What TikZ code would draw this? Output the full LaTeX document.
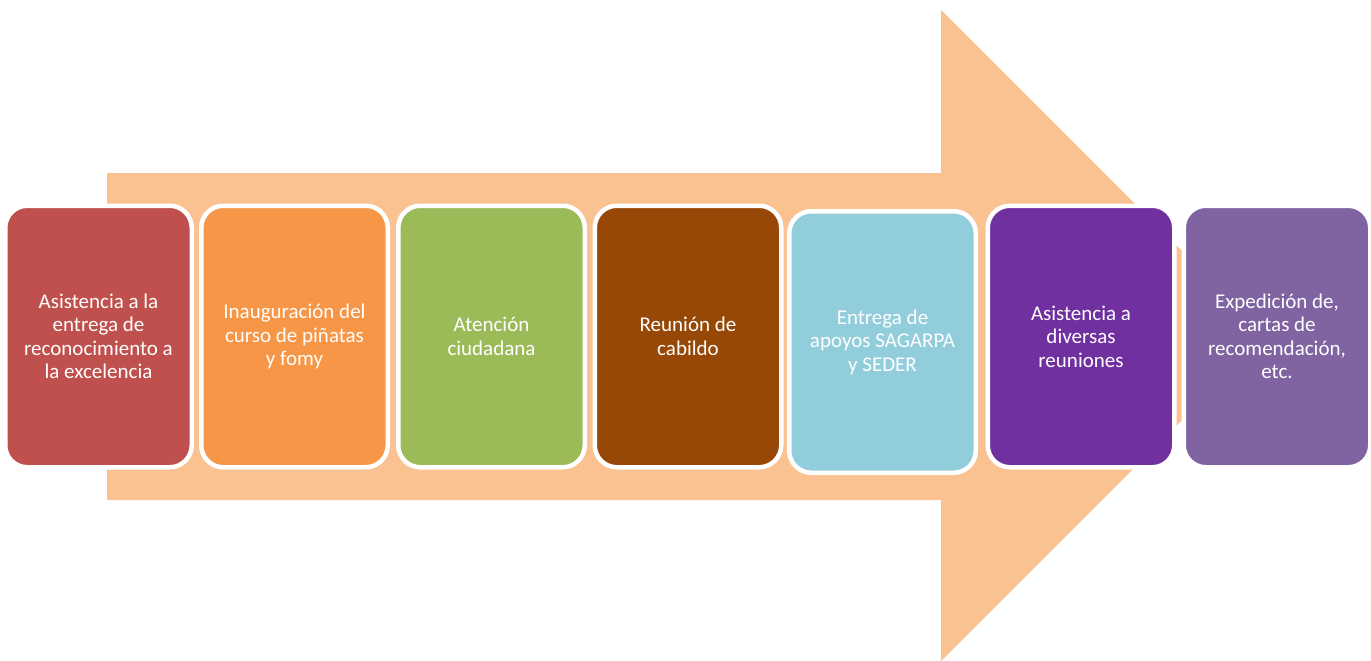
\documentclass[tikz,border=0pt]{standalone}
\usepackage{fontspec}
\setmainfont{Carlito}
\definecolor{arrowc}{HTML}{FAC191}
\definecolor{c1}{HTML}{C0504D}
\definecolor{c2}{HTML}{F79646}
\definecolor{c3}{HTML}{9BBB59}
\definecolor{c4}{HTML}{974806}
\definecolor{c5}{HTML}{92CDDC}
\definecolor{c6}{HTML}{7030A0}
\definecolor{c7}{HTML}{8064A2}
\tikzset{
  card/.style={draw=white, line width=4.5pt, rounded corners=22pt,
    minimum width=186.5pt, minimum height=261.5pt, inner sep=0pt,
    text=white, align=center,
    font=\fontsize{21}{23.5}\selectfont}
}
\begin{document}
\begin{tikzpicture}[x=1pt,y=-1pt]
\useasboundingbox (0,0) rectangle (1371,661);
\fill[arrowc] (107,173) -- (941,173) -- (941,10) -- (1266.5,335.5) -- (941,661) -- (941,500) -- (107,500) -- cycle;
\node[card, fill=c1] (n1) at (98.5,336.5) {Asistencia a la\\entrega de\\reconocimiento a\\la excelencia};
\node[card, fill=c2] (n2) at (294.5,336.5) {Inauguración del\\curso de piñatas\\y fomy};
\node[card, fill=c3] (n3) at (491.5,336.5) {Atención\\ciudadana};
\node[card, fill=c4] (n4) at (688,336.5) {Reunión de\\cabildo};
\node[card, fill=c5] (n5) at (882.5,342) {Entrega de\\apoyos SAGARPA\\y SEDER};
\node[card, fill=c6] (n6) at (1081,336.5) {Asistencia a\\diversas\\reuniones};
\node[card, fill=c7] (n7) at (1277,336.5) {Expedición de,\\cartas de\\recomendación,\\etc.};
\end{tikzpicture}
\end{document}
